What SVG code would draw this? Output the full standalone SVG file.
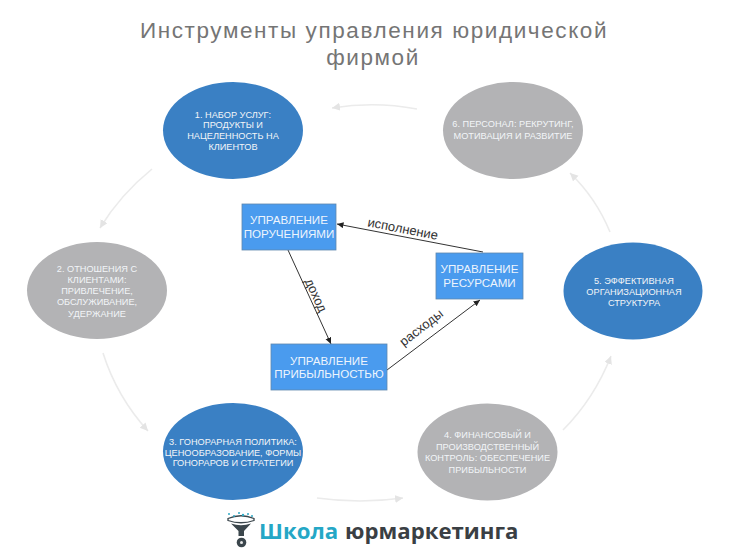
<svg xmlns="http://www.w3.org/2000/svg" width="736" height="552" viewBox="0 0 736 552">
<style>
text{font-family:"Liberation Sans",Arial,sans-serif;text-anchor:middle}
.title{font-size:22.5px;fill:#757575;letter-spacing:1.6px}
.blue{fill:#3a80c4}
.gray{fill:#b3b3b5}
.e{font-size:9.2px;fill:#f2f5f8}
.box{fill:#4a9bee;stroke:#5f87ad;stroke-width:.8}
.b{font-size:11.6px;fill:#eef5fd}
.flow{fill:none;stroke:#ebebeb;stroke-width:1.6;marker-end:url(#ga)}
.link{fill:none;stroke:#333;stroke-width:1;marker-end:url(#ba)}
.lab{font-size:13px;fill:#333}
.logo{font-family:"Open Sans","Noto Sans",sans-serif;font-weight:700;font-size:22.2px;text-anchor:start}
</style>
<defs>
<marker id="ga" markerUnits="userSpaceOnUse" markerWidth="10" markerHeight="10" refX="8" refY="4" orient="auto"><path d="M0 0L8 4L0 8Z" fill="#e4e4e4"/></marker>
<marker id="ba" markerUnits="userSpaceOnUse" markerWidth="8" markerHeight="8" refX="6.5" refY="3" orient="auto"><path d="M0 0L6.5 3L0 6Z" fill="#222"/></marker>
</defs>
<rect width="736" height="552" fill="#fff"/>
<g id="title">
<text class="title" x="374" y="38">Инструменты управления юридической</text>
<text class="title" x="373" y="65">фирмой</text>
</g>
<g id="connectors">
<path class="flow" d="M152 169Q120 195 100 228"/>
<path class="flow" d="M103 353Q117 397 148 431"/>
<path class="flow" d="M317 498Q360 504 403 498"/>
<path class="flow" d="M563 430Q594 399 611 356"/>
<path class="flow" d="M610 232Q596 198 570 173"/>
<path class="flow" d="M417 109Q375 101 332 108"/>
<path class="link" d="M483 252L337 224"/>
<path class="link" d="M288 250L331 344"/>
<path class="link" d="M387 370L480 300"/>
</g>
<g id="link-labels">
<text class="lab" transform="translate(402 233) rotate(11)">исполнение</text>
<text class="lab" transform="translate(312 297) rotate(65)">доход</text>
<text class="lab" transform="translate(424 331) rotate(-38)">расходы</text>
</g>
<g id="node1"><ellipse class="blue" cx="233" cy="130.500" rx="70" ry="48.500"/>
<text class="e" x="233" y="117.500">1. НАБОР УСЛУГ:</text><text class="e" x="233" y="128">ПРОДУКТЫ И</text><text class="e" x="233" y="139">НАЦЕЛЕННОСТЬ НА</text><text class="e" x="233" y="149.500">КЛИЕНТОВ</text></g>
<g id="node2"><ellipse class="gray" cx="97" cy="290.500" rx="70" ry="48.500"/>
<text class="e" x="97" y="271.500">2. ОТНОШЕНИЯ С</text><text class="e" x="97" y="283">КЛИЕНТАМИ:</text><text class="e" x="97" y="294">ПРИВЛЕЧЕНИЕ,</text><text class="e" x="97" y="305">ОБСЛУЖИВАНИЕ,</text><text class="e" x="97" y="317">УДЕРЖАНИЕ</text></g>
<g id="node3"><ellipse class="blue" cx="233" cy="451.500" rx="70" ry="48.500"/>
<text class="e" x="233" y="445">3. ГОНОРАРНАЯ ПОЛИТИКА:</text><text class="e" x="233" y="455.500">ЦЕНООБРАЗОВАНИЕ, ФОРМЫ</text><text class="e" x="233" y="466">ГОНОРАРОВ И СТРАТЕГИИ</text></g>
<g id="node4"><ellipse class="gray" cx="487.500" cy="452" rx="70" ry="48.500"/>
<text class="e" x="487.500" y="438">4. ФИНАНСОВЫЙ И</text><text class="e" x="487.500" y="450">ПРОИЗВОДСТВЕННЫЙ</text><text class="e" x="487.500" y="461">КОНТРОЛЬ: ОБЕСПЕЧЕНИЕ</text><text class="e" x="487.500" y="473">ПРИБЫЛЬНОСТИ</text></g>
<g id="node5"><ellipse class="blue" cx="633" cy="291" rx="69.500" ry="48.500"/>
<text class="e" x="634" y="284">5. ЭФФЕКТИВНАЯ</text><text class="e" x="634" y="294.500">ОРГАНИЗАЦИОННАЯ</text><text class="e" x="634" y="305.500">СТРУКТУРА</text></g>
<g id="node6"><ellipse class="gray" cx="513" cy="130.500" rx="70" ry="48.500"/>
<text class="e" x="513" y="127">6. ПЕРСОНАЛ: РЕКРУТИНГ,</text><text class="e" x="513" y="139">МОТИВАЦИЯ И РАЗВИТИЕ</text></g>
<g id="box-orders"><rect class="box" x="242" y="204" width="94" height="46"/>
<text class="b" x="289" y="224">УПРАВЛЕНИЕ</text><text class="b" x="289" y="238">ПОРУЧЕНИЯМИ</text></g>
<g id="box-resources"><rect class="box" x="436" y="253" width="87" height="46"/>
<text class="b" x="479.500" y="273">УПРАВЛЕНИЕ</text><text class="b" x="479.500" y="287">РЕСУРСАМИ</text></g>
<g id="box-profit"><rect class="box" x="271" y="344" width="116" height="46"/>
<text class="b" x="329" y="365">УПРАВЛЕНИЕ</text><text class="b" x="329" y="378">ПРИБЫЛЬНОСТЬЮ</text></g>
<g id="logo">
<path d="M228 518.500Q241 513 254 518.500L254 520.500Q241 525 228 520.500Z" fill="none" stroke="#3b464c" stroke-width="1.300"/>
<path d="M231 523.500L238.500 531L238.500 536L244 536L244 531L251 523.500Q241 527 231 523.500Z" fill="#3b464c"/>
<circle cx="241.500" cy="542.500" r="4.800" fill="#3b464c"/>
<circle cx="241.500" cy="542.500" r="1.500" fill="#e6e6e6"/>
<g fill="#2fa9c4"><circle cx="229" cy="514" r="1"/><circle cx="234" cy="516" r="1"/><circle cx="239" cy="513" r="1"/><circle cx="243" cy="515" r="1.200"/><circle cx="248" cy="514" r="1"/><circle cx="252" cy="516" r="1"/></g>
<text class="logo" x="259" y="539" fill="#25a7c6">Школа</text>
<text class="logo" x="345" y="539" fill="#3a3f44">юрмаркетинга</text>
</g>
</svg>
